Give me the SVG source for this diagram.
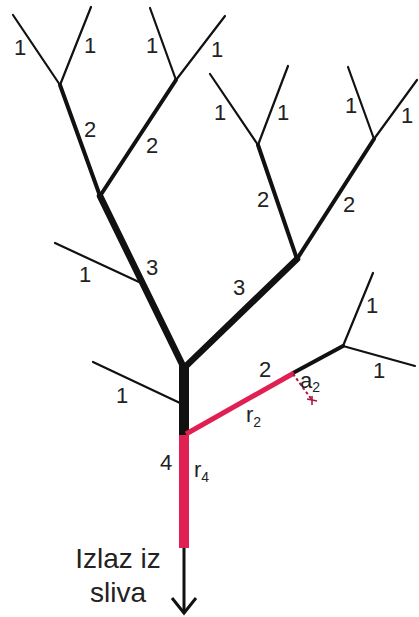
<svg xmlns="http://www.w3.org/2000/svg" width="419" height="617" viewBox="0 0 419 617">
<style>
.o1{stroke:#111;stroke-width:2.2;fill:none;stroke-linecap:round}
.o2{stroke:#111;stroke-width:4;fill:none;stroke-linecap:round}
.o3{stroke:#111;stroke-width:6.5;fill:none;stroke-linecap:round}
.red{stroke:#e01f52;fill:none}
text{font-family:"Liberation Sans",Arial,sans-serif;fill:#222;font-size:22px;text-anchor:middle}
.sub{font-size:14px;text-anchor:start}
.st{text-anchor:start}
</style>
<rect width="419" height="617" fill="#fff"/>
<g id="connectors">
  <!-- upper left subtree -->
  <line class="o1" x1="60" y1="85" x2="13" y2="15"/>
  <line class="o1" x1="60" y1="85" x2="91" y2="7"/>
  <line class="o1" x1="176" y1="80" x2="150" y2="8"/>
  <line class="o1" x1="176" y1="80" x2="225" y2="16"/>
  <line class="o2" x1="100" y1="196" x2="60" y2="85"/>
  <line class="o2" x1="100" y1="196" x2="176" y2="80"/>
  <line class="o1" x1="55" y1="243" x2="139" y2="282"/>
  <line class="o3" x1="184" y1="368" x2="100" y2="196"/>
  <!-- upper right subtree -->
  <line class="o1" x1="258" y1="145" x2="210" y2="74"/>
  <line class="o1" x1="258" y1="145" x2="288" y2="66"/>
  <line class="o1" x1="374" y1="139" x2="348" y2="67"/>
  <line class="o1" x1="374" y1="139" x2="417" y2="80"/>
  <line class="o2" x1="297" y1="259" x2="258" y2="145"/>
  <line class="o2" x1="297" y1="259" x2="374" y2="139"/>
  <line class="o3" x1="184" y1="368" x2="297" y2="259"/>
  <!-- lower side branches -->
  <line class="o1" x1="93" y1="362" x2="180" y2="403"/>
  <line class="o1" x1="343" y1="346" x2="373" y2="273"/>
  <line class="o1" x1="343" y1="346" x2="415" y2="366"/>
  <line class="o2" x1="293" y1="373" x2="343" y2="346"/>
  <!-- trunk -->
  <line x1="184" y1="365" x2="184" y2="436" stroke="#111" stroke-width="10"/>
  <line class="red" x1="186" y1="434" x2="294" y2="373" stroke-width="5"/>
  <line class="red" x1="184" y1="435" x2="184" y2="548" stroke-width="10"/>
  <line x1="184" y1="548" x2="184" y2="612" stroke="#111" stroke-width="3"/>
  <polyline points="172,598 184,613 196,598" fill="none" stroke="#111" stroke-width="3" stroke-linejoin="miter"/>
  <!-- a2 dashed -->
  <line x1="293" y1="374" x2="312" y2="400" stroke="#a8183f" stroke-width="2" stroke-dasharray="3,2.5"/>
  <line x1="307" y1="399" x2="317" y2="401" stroke="#a8183f" stroke-width="1.6"/>
  <line x1="312" y1="396" x2="312" y2="405" stroke="#a8183f" stroke-width="1.6"/>
</g>
<g id="labels">
  <text x="20" y="55">1</text>
  <text x="90" y="53">1</text>
  <text x="90" y="137">2</text>
  <text x="152" y="153">2</text>
  <text x="152" y="53">1</text>
  <text x="217" y="57">1</text>
  <text x="220" y="120">1</text>
  <text x="283" y="120">1</text>
  <text x="263" y="207">2</text>
  <text x="349" y="212">2</text>
  <text x="351" y="113">1</text>
  <text x="407" y="123">1</text>
  <text x="85" y="282">1</text>
  <text x="152" y="275">3</text>
  <text x="239" y="295">3</text>
  <text x="122" y="403">1</text>
  <text x="265" y="377">2</text>
  <text x="372" y="313">1</text>
  <text x="379" y="378">1</text>
  <text x="166" y="470">4</text>
  <text class="st" x="194" y="477">r<tspan class="sub" dy="5">4</tspan></text>
  <text class="st" x="246" y="422">r<tspan class="sub" dy="5">2</tspan></text>
  <text class="st" x="300" y="388">a<tspan class="sub" dy="4">2</tspan></text>
  <text x="118" y="568" style="font-size:28px">Izlaz iz</text>
  <text x="118" y="602" style="font-size:28px">sliva</text>
</g>
</svg>
